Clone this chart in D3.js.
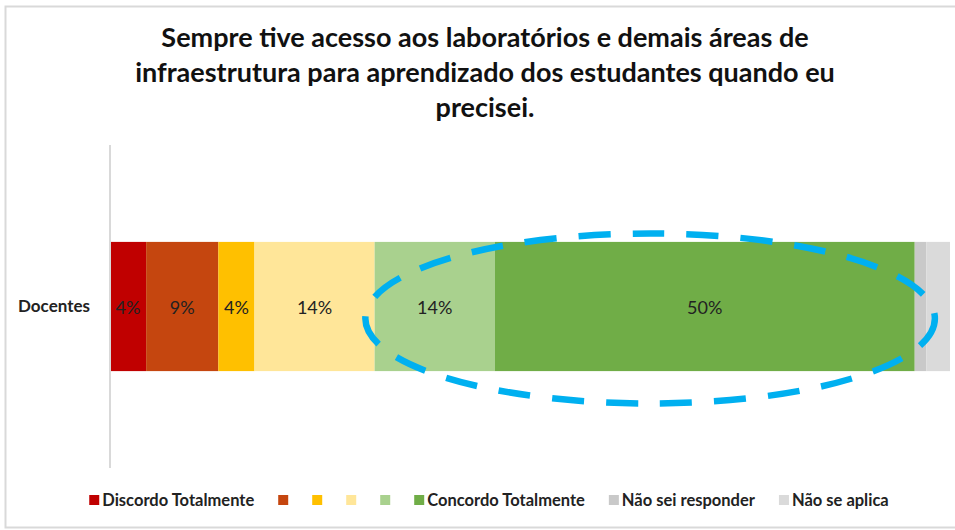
<!DOCTYPE html>
<html>
<head>
<meta charset="utf-8">
<script src="https://cdn.jsdelivr.net/npm/d3@7"></script>
<style>
  html, body { margin: 0; padding: 0; background: #fff; }
  svg { display: block; }
</style>
</head>
<body>
<svg id="chart" width="955" height="530"></svg>
<script>
// Survey answers for the single respondent group (percent of responses)
const categories = ["Docentes"];
const seriesNames = [
  "Discordo Totalmente", "", "", "", "",
  "Concordo Totalmente", "Não sei responder", "Não se aplica"
];
const seriesColors = [
  "#C00000", "#C5460F", "#FFC000", "#FFE699",
  "#A9D18E", "#70AD47", "#C9C9C9", "#DADADA"
];
const seriesValues = [4.3, 8.6, 4.3, 14.3, 14.3, 50.0, 1.4, 2.8];
// Only the answer scale segments carry a value label
const showLabel = [true, true, true, true, true, true, false, false];
const titleLines = [
  "Sempre tive acesso aos laboratórios e demais áreas de",
  "infraestrutura para aprendizado dos estudantes quando eu",
  "precisei."
];

const W = 955, H = 530;
const FONT = "Lato, 'Open Sans', 'DejaVu Sans', sans-serif";
const svg = d3.select("#chart");

// outer frame
svg.append("rect")
  .attr("x", 5.5).attr("y", 6.5)
  .attr("width", W + 10).attr("height", 521)
  .attr("fill", "#fff")
  .attr("stroke", "#d9d9d9").attr("stroke-width", 2);

// title
svg.append("g").selectAll("text")
  .data(titleLines)
  .join("text")
  .attr("x", 485)
  .attr("y", (d, i) => 47 + i * 35)
  .attr("text-anchor", "middle")
  .attr("font-family", FONT)
  .attr("font-weight", 700)
  .attr("font-size", 27)
  .attr("fill", "#111")
  .text(d => d);

const plot = { left: 110, right: 950, top: 145, bottom: 468 };

const x = d3.scaleLinear().domain([0, 100]).range([plot.left, plot.right]);
const y = d3.scaleBand().domain(categories)
  .range([plot.top, plot.bottom])
  .paddingInner(0).paddingOuter(0.75);

// stacked segments
const rows = categories.map(c => {
  const r = { cat: c };
  seriesValues.forEach((v, i) => r["s" + i] = v);
  return r;
});
const keys = seriesValues.map((v, i) => "s" + i);
const stacked = d3.stack().keys(keys)(rows);

const segs = svg.append("g");
stacked.forEach((layer, i) => {
  layer.forEach(d => {
    segs.append("rect")
      .attr("x", x(d[0]))
      .attr("y", y(d.data.cat))
      .attr("width", x(d[1]) - x(d[0]))
      .attr("height", y.bandwidth())
      .attr("fill", seriesColors[i]);
    if (showLabel[i]) {
      segs.append("text")
        .attr("x", (x(d[0]) + x(d[1])) / 2)
        .attr("y", y(d.data.cat) + y.bandwidth() / 2 + 7)
        .attr("text-anchor", "middle")
        .attr("font-family", FONT)
        .attr("font-size", 18)
        .attr("fill", "#222")
        .text(d3.format(".0%")(seriesValues[i] / 100));
    }
  });
});

// category axis
const yAxis = svg.append("g")
  .attr("transform", `translate(${plot.left},0)`)
  .call(d3.axisLeft(y).tickSize(0).tickPadding(20));
yAxis.select(".domain")
  .attr("d", `M0,${plot.top}V${plot.bottom}`)
  .attr("stroke", "#d9d9d9").attr("stroke-width", 2);
yAxis.selectAll("text")
  .attr("font-family", FONT)
  .attr("font-weight", 700)
  .attr("font-size", 17)
  .attr("fill", "#222");

// dashed highlight around the agreement side of the bar
const bandMid = y(categories[0]) + y.bandwidth() / 2;
const ellLeft = x(30.4), ellRight = x(98.2);
svg.append("ellipse")
  .attr("cx", (ellLeft + ellRight) / 2)
  .attr("cy", bandMid + 12)
  .attr("rx", (ellRight - ellLeft) / 2)
  .attr("ry", 85)
  .attr("fill", "none")
  .attr("stroke", "#00B0F0")
  .attr("stroke-width", 6.5)
  .attr("stroke-dasharray", "32 22");

// legend
const legend = svg.append("g");
let lx = 0;
seriesNames.forEach((name, i) => {
  const g = legend.append("g").attr("transform", `translate(${lx},0)`);
  g.append("rect")
    .attr("x", 0).attr("y", -5)
    .attr("width", 10).attr("height", 10)
    .attr("fill", seriesColors[i]);
  let w = 10;
  if (name) {
    const t = g.append("text")
      .attr("x", 13).attr("y", 6)
      .attr("font-family", FONT)
      .attr("font-weight", 700)
      .attr("font-size", 16.5)
      .attr("fill", "#222")
      .text(name);
    w = 13 + t.node().getComputedTextLength();
  }
  lx += w + 24;
});
const legendWidth = lx - 24;
legend.attr("transform", `translate(${489 - legendWidth / 2},500)`);
</script>
</body>
</html>
